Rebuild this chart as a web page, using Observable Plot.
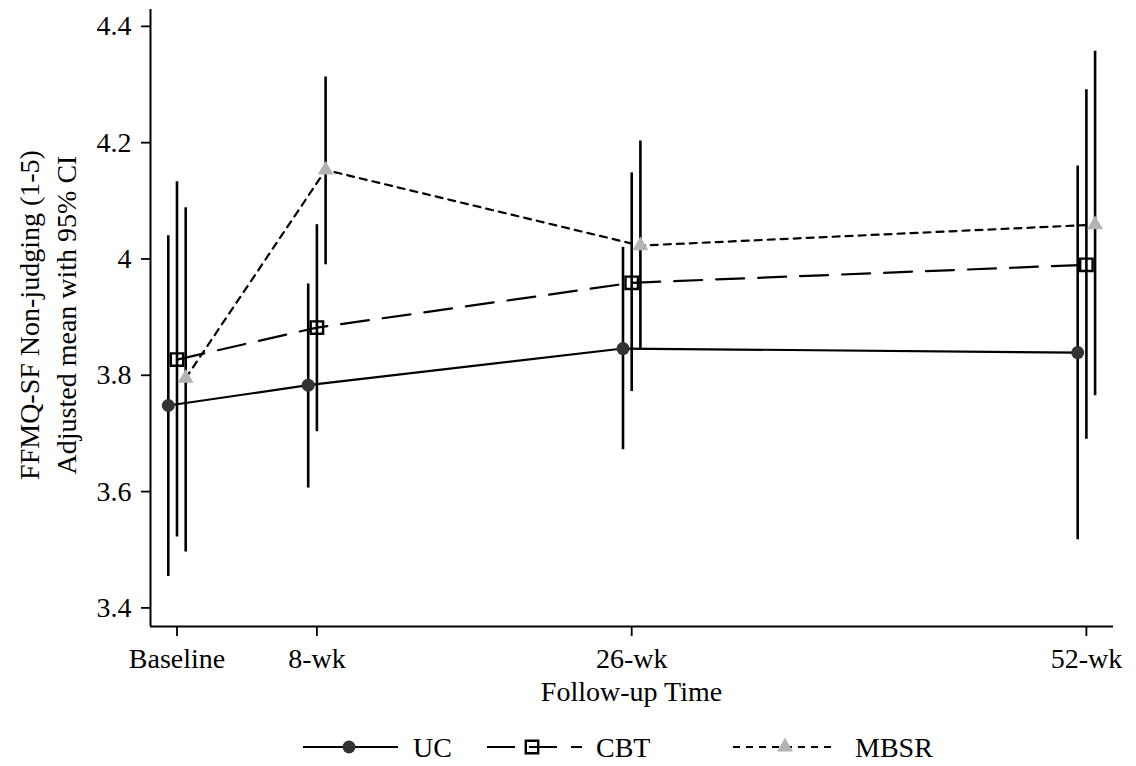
<!DOCTYPE html>
<html>
<head>
<meta charset="utf-8">
<script src="https://cdn.jsdelivr.net/npm/d3@7"></script>
<script src="https://cdn.jsdelivr.net/npm/@observablehq/plot@0.6"></script>
<style>
  html, body { margin: 0; padding: 0; background: white; }
  #wrap { position: relative; width: 1136px; height: 766px; font-family: "Liberation Serif", "Times New Roman", serif; color: black; }
  #chart { position: absolute; left: 0; top: 0; }
  #ytitle { position: absolute; left: 47.5px; top: 315px; width: 520px; transform: translate(-50%, -50%) rotate(-90deg);
            text-align: center; font-size: 28px; line-height: 37px; white-space: nowrap; }
  #xtitle { position: absolute; left: 0; width: 1263px; top: 682px; text-align: center; font-size: 28px; line-height: 20px; }
  #legend { position: absolute; left: 0; top: 720px; }
  svg text { font-family: "Liberation Serif", "Times New Roman", serif !important; }
  svg g[aria-label="x-axis tick"] path, svg g[aria-label="y-axis tick"] path { stroke-width: 1.8; }
</style>
</head>
<body>
<div id="wrap">
  <div id="chart"></div>
  <div id="ytitle">FFMQ-SF Non-judging (1-5)<br>Adjusted mean with 95% CI</div>
  <div id="xtitle">Follow-up Time</div>
  <svg id="legend" width="1136" height="54"></svg>
</div>
<script>
// ---- data ----
const weeks = [0, 8, 26, 52];
const weekLabels = ["Baseline", "8-wk", "26-wk", "52-wk"];
const yTicks = [3.4, 3.6, 3.8, 4, 4.2, 4.4];
const groups = ["UC", "CBT", "MBSR"];

const ucMean = [3.748, 3.783, 3.846, 3.839];
const ucLow  = [3.454, 3.606, 3.672, 3.517];
const ucHigh = [4.040, 3.957, 4.020, 4.160];

const cbtMean = [3.827, 3.882, 3.959, 3.990];
const cbtLow  = [3.522, 3.703, 3.772, 3.690];
const cbtHigh = [4.133, 4.059, 4.148, 4.291];

const mbsrMean = [3.795, 4.153, 4.023, 4.059];
const mbsrLow  = [3.496, 3.990, 3.843, 3.765];
const mbsrHigh = [4.088, 4.313, 4.203, 4.357];

// ---- styles ----
const xDomain = [-1.515, 53.55];
const yDomain = [3.368, 4.429];
const styles = {
  UC:   {dx: -8.7, dash: null,    symbol: "circle",   r: 6.5, fill: "#333333", stroke: "none",  sw: 0},
  CBT:  {dx: 0,    dash: "28,14", symbol: "square",   r: 7.0, fill: "none",    stroke: "black", sw: 2.4},
  MBSR: {dx: 8.7,  dash: "7,6",   symbol: "triangle", r: 5.9, fill: "#b3b3b3", stroke: "none",  sw: 0}
};
const seriesData = {
  UC:   weeks.map((w, i) => ({week: w, mean: ucMean[i],   low: ucLow[i],   high: ucHigh[i]})),
  CBT:  weeks.map((w, i) => ({week: w, mean: cbtMean[i],  low: cbtLow[i],  high: cbtHigh[i]})),
  MBSR: weeks.map((w, i) => ({week: w, mean: mbsrMean[i], low: mbsrLow[i], high: mbsrHigh[i]}))
};

const rules = groups.map(g => Plot.ruleX(seriesData[g], {x: "week", y1: "low", y2: "high", dx: styles[g].dx, stroke: "black", strokeWidth: 2.6}));
const lines = groups.map(g => Plot.line(seriesData[g], {x: "week", y: "mean", dx: styles[g].dx, stroke: "black", strokeWidth: 2.2,
  strokeDasharray: styles[g].dash}));
const dots = groups.map(g => Plot.dot(seriesData[g], {x: "week", y: "mean", dx: styles[g].dx, symbol: styles[g].symbol, r: styles[g].r,
  fill: styles[g].fill, stroke: styles[g].stroke, strokeWidth: styles[g].sw}));

const chart = Plot.plot({
  width: 1136,
  height: 710,
  marginLeft: 150,
  marginRight: 23,
  marginTop: 9,
  marginBottom: 84,
  style: {fontFamily: "Liberation Serif, Times New Roman, serif", fontSize: "28px", color: "black", background: "white"},
  x: {type: "linear", domain: xDomain, ticks: weeks, tickFormat: d => weekLabels[weeks.indexOf(d)], tickSize: 10, tickPadding: 12, label: null},
  y: {domain: yDomain, ticks: yTicks, tickFormat: d3.format("~g"), tickSize: 9, tickPadding: 10, label: null},
  marks: [
    Plot.ruleX([xDomain[0]], {stroke: "black", strokeWidth: 2}),
    Plot.ruleY([yDomain[0]], {stroke: "black", strokeWidth: 2}),
    ...rules,
    ...lines,
    ...dots
  ]
});
document.getElementById("chart").appendChild(chart);

// ---- legend ----
const leg = d3.select("#legend");
const cy = 27;
const legendItems = [
  {g: "UC",   x1: 303, x2: 398, sx: 349, tx: 413},
  {g: "CBT",  x1: 487, x2: 582, sx: 532, tx: 596},
  {g: "MBSR", x1: 733, x2: 836, sx: 785, tx: 855}
];
const symMap = {circle: d3.symbolCircle, square: d3.symbolSquare, triangle: d3.symbolTriangle};
legendItems.forEach(it => {
  const s = styles[it.g];
  leg.append("line").attr("x1", it.x1).attr("x2", it.x2).attr("y1", cy).attr("y2", cy)
    .attr("stroke", "black").attr("stroke-width", 2.2).attr("stroke-dasharray", s.dash);
  leg.append("path")
    .attr("d", d3.symbol(symMap[s.symbol], Math.PI * s.r * s.r)())
    .attr("transform", `translate(${it.sx},${cy})`)
    .attr("fill", s.fill).attr("stroke", s.stroke).attr("stroke-width", s.sw);
  leg.append("text").attr("x", it.tx).attr("y", cy + 9.5)
    .attr("font-size", 28).attr("fill", "black")
    .text(it.g);
});
</script>
</body>
</html>
